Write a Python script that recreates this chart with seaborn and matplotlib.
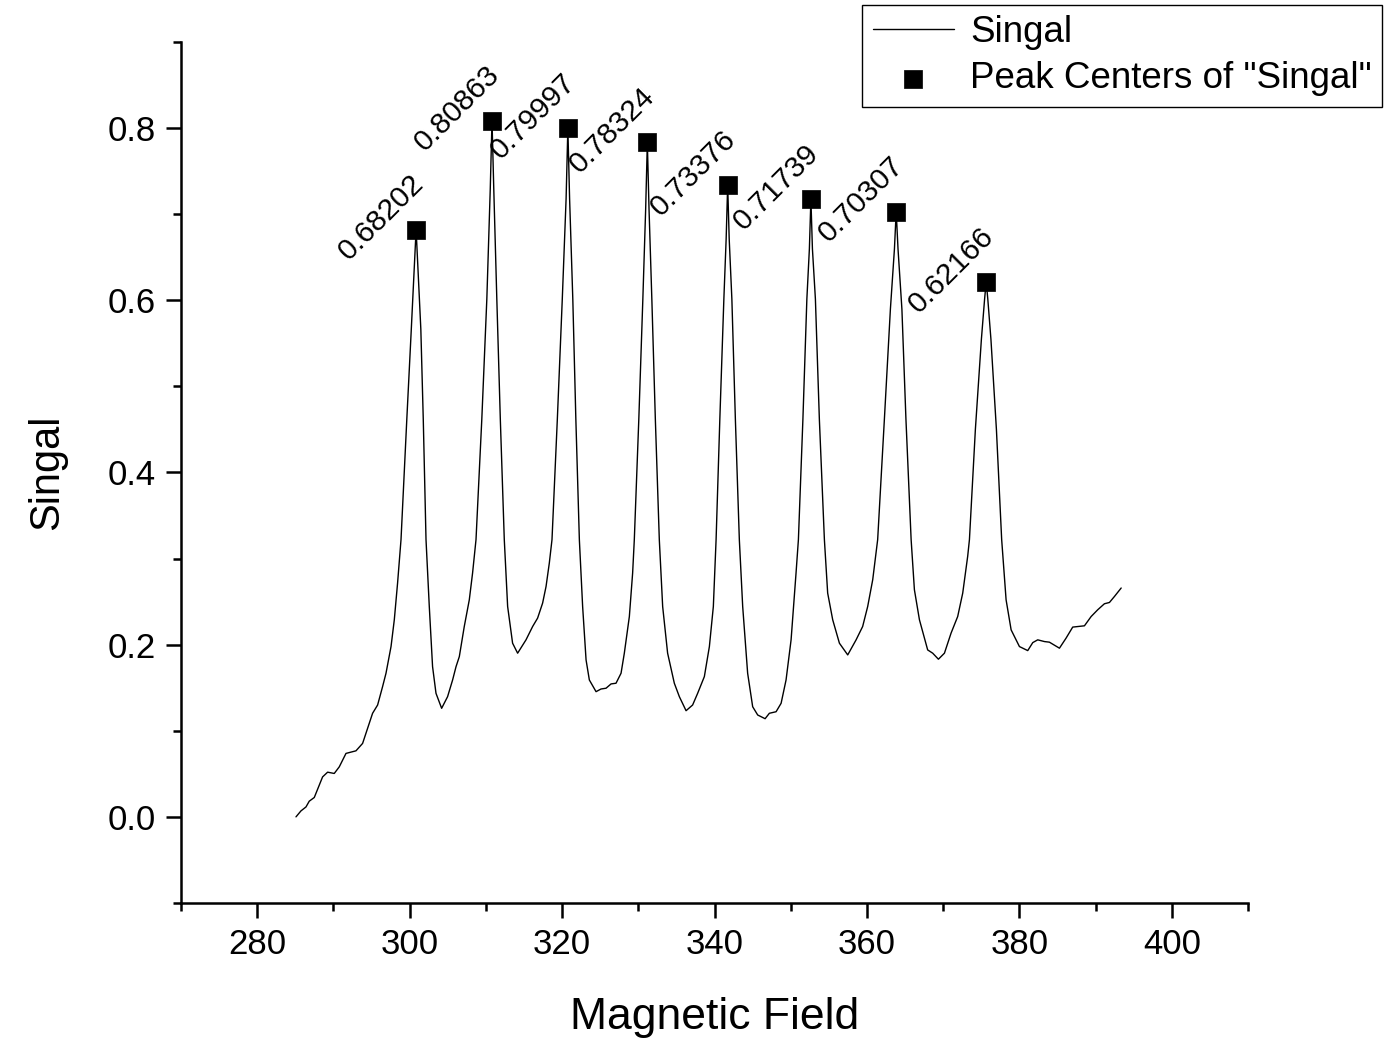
import matplotlib
matplotlib.use("Agg")
import matplotlib.pyplot as plt
import seaborn as sns
import pandas as pd

# ---- data ----
field = [285.08, 285.73, 286.39, 286.82, 287.48, 288.04, 288.57, 289.23, 290.10, 290.76,
         291.64, 292.95, 293.82, 294.47, 295.13, 295.79, 296.44, 296.89, 297.55, 297.98,
         298.41, 298.86, 299.62, 300.21, 300.64, 300.84, 301.04, 301.46, 301.78, 302.14,
         302.57, 303.00, 303.45, 304.19, 304.97, 305.63, 306.08, 306.51, 307.16, 307.82,
         308.25, 308.70, 309.46, 310.12, 310.57, 310.80, 311.03, 311.43, 311.89, 312.41,
         312.85, 313.50, 314.16, 315.26, 316.13, 316.78, 317.44, 317.89, 318.32, 318.67,
         319.37, 320.02, 320.52, 320.75, 320.98, 321.40, 321.80, 322.26, 322.69, 323.14,
         323.57, 324.45, 325.10, 325.76, 326.42, 327.07, 327.73, 328.16, 328.82, 329.25,
         329.47, 330.06, 330.59, 330.96, 331.18, 331.40, 331.77, 332.23, 332.75, 333.19,
         333.84, 334.72, 335.38, 336.26, 337.12, 337.78, 338.66, 339.32, 339.84, 340.20,
         340.69, 341.22, 341.52, 341.72, 341.92, 342.27, 342.73, 343.25, 343.69, 344.34,
         345.00, 345.66, 346.63, 347.19, 348.07, 348.73, 349.38, 350.04, 350.69, 351.00,
         351.59, 352.11, 352.44, 352.64, 352.84, 353.23, 353.75, 354.41, 354.84, 355.50,
         356.38, 357.47, 358.57, 359.43, 360.09, 360.75, 361.19, 361.40, 362.28, 363.07,
         363.60, 363.83, 364.07, 364.58, 365.11, 365.79, 366.22, 366.88, 367.96, 368.62,
         369.37, 370.16, 371.03, 371.90, 372.56, 373.21, 373.44, 374.22, 375.01, 375.43,
         375.64, 375.85, 376.26, 376.98, 377.67, 378.25, 378.91, 380.00, 381.09, 381.75,
         382.40, 383.28, 383.93, 385.25, 386.12, 386.99, 388.53, 389.41, 390.27, 391.15,
         391.81, 392.47, 393.35]
signal = [0.0000, 0.0069, 0.0115, 0.0182, 0.0225, 0.0348, 0.0464, 0.0519, 0.0504, 0.0581,
          0.0737, 0.0767, 0.0853, 0.1028, 0.1203, 0.1299, 0.1512, 0.1668, 0.1978, 0.2289,
          0.2716, 0.3220, 0.4617, 0.5665, 0.6456, 0.68202, 0.6456, 0.5665, 0.4617, 0.3220,
          0.2443, 0.1745, 0.1435, 0.1261, 0.1396, 0.1590, 0.1745, 0.1861, 0.2211, 0.2521,
          0.2832, 0.3220, 0.4617, 0.6014, 0.7294, 0.80863, 0.7294, 0.6014, 0.4617, 0.3220,
          0.2443, 0.2017, 0.1901, 0.2056, 0.2211, 0.2308, 0.2483, 0.2676, 0.2949, 0.3220,
          0.4617, 0.6014, 0.7178, 0.79997, 0.7178, 0.6014, 0.4617, 0.3220, 0.2443, 0.1823,
          0.1590, 0.1454, 0.1485, 0.1494, 0.1544, 0.1552, 0.1668, 0.1901, 0.2327, 0.2832,
          0.3220, 0.4617, 0.6014, 0.7061, 0.78324, 0.7061, 0.6014, 0.4617, 0.3220, 0.2443,
          0.1901, 0.1552, 0.1396, 0.1233, 0.1299, 0.1435, 0.1629, 0.1978, 0.2443, 0.3220,
          0.4617, 0.6014, 0.6712, 0.73376, 0.6712, 0.6014, 0.4617, 0.3220, 0.2443, 0.1668,
          0.1279, 0.1183, 0.1140, 0.1203, 0.1221, 0.1319, 0.1590, 0.2056, 0.2832, 0.3220,
          0.4617, 0.6014, 0.6596, 0.71739, 0.6596, 0.6014, 0.4617, 0.3220, 0.2599, 0.2289,
          0.2017, 0.1881, 0.2056, 0.2211, 0.2443, 0.2754, 0.3065, 0.3220, 0.4617, 0.5897,
          0.6596, 0.70307, 0.6596, 0.5897, 0.4617, 0.3220, 0.2638, 0.2289, 0.1939, 0.1901,
          0.1831, 0.1901, 0.2134, 0.2327, 0.2599, 0.3026, 0.3220, 0.4500, 0.5548, 0.6014,
          0.62166, 0.6014, 0.5548, 0.4500, 0.3220, 0.2521, 0.2172, 0.1978, 0.1931, 0.2024,
          0.2056, 0.2036, 0.2029, 0.1959, 0.2076, 0.2204, 0.2219, 0.2327, 0.2405, 0.2475,
          0.2490, 0.2560, 0.2658]

peak_field = [300.84, 310.80, 320.75, 331.18, 341.72, 352.64, 363.83, 375.64]
peak_height = [0.68202, 0.80863, 0.79997, 0.78324, 0.73376, 0.71739, 0.70307, 0.62166]
peak_labels = ["0.68202", "0.80863", "0.79997", "0.78324", "0.73376", "0.71739", "0.70307", "0.62166"]

x_major = [280, 300, 320, 340, 360, 380, 400]
x_minor = [270, 290, 310, 330, 350, 370, 390, 410]
y_major = [0.0, 0.2, 0.4, 0.6, 0.8]
y_minor = [-0.1, 0.1, 0.3, 0.5, 0.7, 0.9]

# ---- style ----
sns.set_style("ticks")
plt.rcParams["font.family"] = ["Liberation Sans", "DejaVu Sans"]
plt.rcParams["text.color"] = "black"
plt.rcParams["axes.labelcolor"] = "black"
plt.rcParams["xtick.color"] = "black"
plt.rcParams["ytick.color"] = "black"

fig = plt.figure(figsize=(13.97, 10.41), dpi=100)
ax = fig.add_axes([0.1296, 0.1326, 0.7638, 0.8271])

sig_df = pd.DataFrame({"Magnetic Field": field, "Singal": signal})
peak_df = pd.DataFrame({"Magnetic Field": peak_field, "Singal": peak_height})

sns.lineplot(data=sig_df, x="Magnetic Field", y="Singal", ax=ax, color="black",
             linewidth=1.0, estimator=None, sort=False, label="Singal")
sns.scatterplot(data=peak_df, x="Magnetic Field", y="Singal", ax=ax, marker="s",
                s=170, color="black", edgecolor="black", linewidth=0.5,
                label='Peak Centers of "Singal"', zorder=5)

for xv, yv, lab in zip(peak_field, peak_height, peak_labels):
    ax.annotate(lab, (xv, yv), xytext=(-25, 8.6), textcoords="offset points",
                rotation=45, ha="center", va="center", fontsize=21.5, color="black")

ax.set_xlim(270, 410)
ax.set_ylim(-0.1, 0.9)
ax.set_xticks(x_major)
ax.set_xticks(x_minor, minor=True)
ax.set_yticks(y_major)
ax.set_yticks(y_minor, minor=True)
ax.set_yticklabels([f"{v:.1f}" for v in y_major])

for side in ["top", "right"]:
    ax.spines[side].set_visible(False)
for side in ["left", "bottom"]:
    ax.spines[side].set_linewidth(1.8)
    ax.spines[side].set_color("black")

ax.tick_params(axis="both", which="major", direction="out", length=11, width=1.8,
               labelsize=25, colors="black", pad=7)
ax.tick_params(axis="both", which="minor", direction="out", length=6, width=1.8,
               colors="black")

ax.set_xlabel("Magnetic Field", fontsize=32, labelpad=26, color="black")
ax.set_ylabel("Singal", fontsize=30, labelpad=29, color="black")

leg = ax.legend(loc="upper right", bbox_to_anchor=(0.9893, 0.9952),
                bbox_transform=fig.transFigure, fontsize=26.5, frameon=True,
                fancybox=False, shadow=False, borderaxespad=0, borderpad=0.28,
                labelspacing=0.3, handlelength=2.2, handletextpad=0.45)
leg.get_frame().set_edgecolor("black")
leg.get_frame().set_linewidth(1.0)
leg.get_frame().set_alpha(1)
for t in leg.get_texts():
    t.set_color("black")

fig.savefig("out.png", dpi=100)
